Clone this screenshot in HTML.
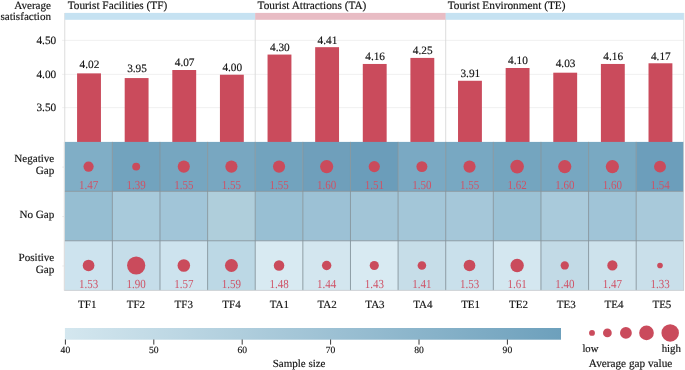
<!DOCTYPE html>
<html><head><meta charset="utf-8"><style>
html,body{margin:0;padding:0;background:#fff;}
body{width:685px;height:370px;overflow:hidden;}
#w{will-change:transform;width:685px;height:370px;}
svg{display:block;}
svg text{font-family:"Liberation Serif",serif;text-rendering:geometricPrecision;} .k{stroke:#141414;stroke-width:0.16px;}
</style></head><body>
<div id="w"><svg width="685" height="370" viewBox="0 0 685 370"><rect width="685" height="370" fill="#fff"/><line x1="62.15" y1="107.65" x2="683.81" y2="107.65" stroke="#ececec" stroke-width="0.8"/><text x="56.2" y="111.25" font-size="11.3" text-anchor="end" fill="#141414" class="k">3.50</text><line x1="62.15" y1="74.40" x2="683.81" y2="74.40" stroke="#ececec" stroke-width="0.8"/><text x="56.2" y="78.00" font-size="11.3" text-anchor="end" fill="#141414" class="k">4.00</text><line x1="62.15" y1="40.40" x2="683.81" y2="40.40" stroke="#ececec" stroke-width="0.8"/><text x="56.2" y="44.00" font-size="11.3" text-anchor="end" fill="#141414" class="k">4.50</text><line x1="64.75" y1="13" x2="64.75" y2="141.9" stroke="#d8d8d8" stroke-width="0.9"/><line x1="255.23" y1="13" x2="255.23" y2="141.9" stroke="#d8d8d8" stroke-width="0.9"/><line x1="445.71" y1="13" x2="445.71" y2="141.9" stroke="#d8d8d8" stroke-width="0.9"/><line x1="683.81" y1="13" x2="683.81" y2="141.9" stroke="#d8d8d8" stroke-width="0.9"/><rect x="64.75" y="12.9" width="190.48" height="6.9" fill="#c6e2f2"/><rect x="255.23" y="12.9" width="190.48" height="6.9" fill="#e8bcc4"/><rect x="445.71" y="12.9" width="238.10" height="6.9" fill="#c6e2f2"/><text x="67.7" y="9.0" font-size="11.3" fill="#141414" class="k">Tourist Facilities (TF)</text><text x="257.6" y="9.0" font-size="11.3" fill="#141414" class="k">Tourist Attractions (TA)</text><text x="447.7" y="9.0" font-size="11.3" fill="#141414" class="k">Tourist Environment (TE)</text><text x="51" y="9" font-size="11.1" text-anchor="end" fill="#141414" class="k">Average</text><text x="51" y="19.7" font-size="11.1" text-anchor="end" fill="#141414" class="k">satisfaction</text><rect x="77.08" y="73.37" width="23.87" height="69.03" fill="#ca4b5c"/><text x="89.41" y="68.20" font-size="11.3" text-anchor="middle" fill="#141414" class="k">4.02</text><rect x="124.69" y="78.07" width="23.87" height="64.33" fill="#ca4b5c"/><text x="137.03" y="72.20" font-size="11.3" text-anchor="middle" fill="#141414" class="k">3.95</text><rect x="172.31" y="70.01" width="23.87" height="72.39" fill="#ca4b5c"/><text x="184.65" y="65.80" font-size="11.3" text-anchor="middle" fill="#141414" class="k">4.07</text><rect x="219.93" y="74.71" width="23.87" height="67.69" fill="#ca4b5c"/><text x="232.27" y="70.80" font-size="11.3" text-anchor="middle" fill="#141414" class="k">4.00</text><rect x="267.55" y="54.56" width="23.87" height="87.84" fill="#ca4b5c"/><text x="279.89" y="51.00" font-size="11.3" text-anchor="middle" fill="#141414" class="k">4.30</text><rect x="315.17" y="47.17" width="23.87" height="95.23" fill="#ca4b5c"/><text x="327.51" y="43.80" font-size="11.3" text-anchor="middle" fill="#141414" class="k">4.41</text><rect x="362.79" y="63.96" width="23.87" height="78.44" fill="#ca4b5c"/><text x="375.13" y="60.40" font-size="11.3" text-anchor="middle" fill="#141414" class="k">4.16</text><rect x="410.41" y="57.91" width="23.87" height="84.49" fill="#ca4b5c"/><text x="422.75" y="53.80" font-size="11.3" text-anchor="middle" fill="#141414" class="k">4.25</text><rect x="458.03" y="80.76" width="23.87" height="61.64" fill="#ca4b5c"/><text x="470.37" y="76.90" font-size="11.3" text-anchor="middle" fill="#141414" class="k">3.91</text><rect x="505.66" y="67.99" width="23.87" height="74.41" fill="#ca4b5c"/><text x="517.99" y="64.40" font-size="11.3" text-anchor="middle" fill="#141414" class="k">4.10</text><rect x="553.28" y="72.69" width="23.87" height="69.71" fill="#ca4b5c"/><text x="565.61" y="67.10" font-size="11.3" text-anchor="middle" fill="#141414" class="k">4.03</text><rect x="600.90" y="63.96" width="23.87" height="78.44" fill="#ca4b5c"/><text x="613.23" y="60.40" font-size="11.3" text-anchor="middle" fill="#141414" class="k">4.16</text><rect x="648.52" y="63.29" width="23.87" height="79.11" fill="#ca4b5c"/><text x="660.85" y="59.70" font-size="11.3" text-anchor="middle" fill="#141414" class="k">4.17</text><rect x="64.75" y="141.90" width="47.62" height="49.43" fill="#80aec6"/><rect x="112.37" y="141.90" width="47.62" height="49.43" fill="#72a3be"/><rect x="159.99" y="141.90" width="47.62" height="49.43" fill="#76a6c0"/><rect x="207.61" y="141.90" width="47.62" height="49.43" fill="#78a7c1"/><rect x="255.23" y="141.90" width="47.62" height="49.43" fill="#72a3be"/><rect x="302.85" y="141.90" width="47.62" height="49.43" fill="#6f9fbb"/><rect x="350.47" y="141.90" width="47.62" height="49.43" fill="#6b9dba"/><rect x="398.09" y="141.90" width="47.62" height="49.43" fill="#7aa9c3"/><rect x="445.71" y="141.90" width="47.62" height="49.43" fill="#78a8c2"/><rect x="493.33" y="141.90" width="47.62" height="49.43" fill="#74a5bf"/><rect x="540.95" y="141.90" width="47.62" height="49.43" fill="#77a7c1"/><rect x="588.57" y="141.90" width="47.62" height="49.43" fill="#79a9c2"/><rect x="636.19" y="141.90" width="47.62" height="49.43" fill="#6c9ebb"/><rect x="64.75" y="191.33" width="47.62" height="49.43" fill="#96bed2"/><rect x="112.37" y="191.33" width="47.62" height="49.43" fill="#a8cadb"/><rect x="159.99" y="191.33" width="47.62" height="49.43" fill="#a1c5d8"/><rect x="207.61" y="191.33" width="47.62" height="49.43" fill="#afcedb"/><rect x="255.23" y="191.33" width="47.62" height="49.43" fill="#98bfd3"/><rect x="302.85" y="191.33" width="47.62" height="49.43" fill="#9cc1d5"/><rect x="350.47" y="191.33" width="47.62" height="49.43" fill="#a2c5d7"/><rect x="398.09" y="191.33" width="47.62" height="49.43" fill="#a3c6d8"/><rect x="445.71" y="191.33" width="47.62" height="49.43" fill="#a5c7d9"/><rect x="493.33" y="191.33" width="47.62" height="49.43" fill="#9bc1d4"/><rect x="540.95" y="191.33" width="47.62" height="49.43" fill="#a9cadb"/><rect x="588.57" y="191.33" width="47.62" height="49.43" fill="#a0c4d7"/><rect x="636.19" y="191.33" width="47.62" height="49.43" fill="#a8c9da"/><rect x="64.75" y="240.76" width="47.62" height="49.43" fill="#cde3ee"/><rect x="112.37" y="240.76" width="47.62" height="49.43" fill="#c5dde9"/><rect x="159.99" y="240.76" width="47.62" height="49.43" fill="#cde3ee"/><rect x="207.61" y="240.76" width="47.62" height="49.43" fill="#bcd8e5"/><rect x="255.23" y="240.76" width="47.62" height="49.43" fill="#d8eaf2"/><rect x="302.85" y="240.76" width="47.62" height="49.43" fill="#d3e6ef"/><rect x="350.47" y="240.76" width="47.62" height="49.43" fill="#d8eaf2"/><rect x="398.09" y="240.76" width="47.62" height="49.43" fill="#c6dde8"/><rect x="445.71" y="240.76" width="47.62" height="49.43" fill="#c9e0eb"/><rect x="493.33" y="240.76" width="47.62" height="49.43" fill="#d4e7f0"/><rect x="540.95" y="240.76" width="47.62" height="49.43" fill="#c2dae6"/><rect x="588.57" y="240.76" width="47.62" height="49.43" fill="#cde2ec"/><rect x="636.19" y="240.76" width="47.62" height="49.43" fill="#c9dfea"/><line x1="112.37" y1="141.9" x2="112.37" y2="290.19" stroke="#84949c" stroke-width="0.9"/><line x1="159.99" y1="141.9" x2="159.99" y2="290.19" stroke="#84949c" stroke-width="0.9"/><line x1="207.61" y1="141.9" x2="207.61" y2="290.19" stroke="#84949c" stroke-width="0.9"/><line x1="255.23" y1="141.9" x2="255.23" y2="290.19" stroke="#84949c" stroke-width="0.9"/><line x1="302.85" y1="141.9" x2="302.85" y2="290.19" stroke="#84949c" stroke-width="0.9"/><line x1="350.47" y1="141.9" x2="350.47" y2="290.19" stroke="#84949c" stroke-width="0.9"/><line x1="398.09" y1="141.9" x2="398.09" y2="290.19" stroke="#84949c" stroke-width="0.9"/><line x1="445.71" y1="141.9" x2="445.71" y2="290.19" stroke="#84949c" stroke-width="0.9"/><line x1="493.33" y1="141.9" x2="493.33" y2="290.19" stroke="#84949c" stroke-width="0.9"/><line x1="540.95" y1="141.9" x2="540.95" y2="290.19" stroke="#84949c" stroke-width="0.9"/><line x1="588.57" y1="141.9" x2="588.57" y2="290.19" stroke="#84949c" stroke-width="0.9"/><line x1="636.19" y1="141.9" x2="636.19" y2="290.19" stroke="#84949c" stroke-width="0.9"/><line x1="64.75" y1="191.33" x2="683.81" y2="191.33" stroke="#84949c" stroke-width="0.9"/><line x1="64.75" y1="240.76" x2="683.81" y2="240.76" stroke="#84949c" stroke-width="0.9"/><line x1="64.3" y1="141.9" x2="64.3" y2="290.59" stroke="#d4d4d4" stroke-width="0.9"/><line x1="683.61" y1="141.9" x2="683.61" y2="290.59" stroke="#c8cdd0" stroke-width="0.9"/><line x1="64.3" y1="290.39" x2="683.81" y2="290.39" stroke="#c8cdd0" stroke-width="0.9"/><circle cx="88.56" cy="166.62" r="5.12" fill="#ca4b5c"/><text transform="translate(88.56,188.90) scale(1,1.12)" x="0" y="0" font-size="11" text-anchor="middle" fill="#cf5266">1.47</text><circle cx="136.18" cy="166.62" r="3.97" fill="#ca4b5c"/><text transform="translate(136.18,188.90) scale(1,1.12)" x="0" y="0" font-size="11" text-anchor="middle" fill="#cf5266">1.39</text><circle cx="183.80" cy="166.62" r="6.06" fill="#ca4b5c"/><text transform="translate(183.80,188.90) scale(1,1.12)" x="0" y="0" font-size="11" text-anchor="middle" fill="#cf5266">1.55</text><circle cx="231.42" cy="166.62" r="6.06" fill="#ca4b5c"/><text transform="translate(231.42,188.90) scale(1,1.12)" x="0" y="0" font-size="11" text-anchor="middle" fill="#cf5266">1.55</text><circle cx="279.04" cy="166.62" r="6.06" fill="#ca4b5c"/><text transform="translate(279.04,188.90) scale(1,1.12)" x="0" y="0" font-size="11" text-anchor="middle" fill="#cf5266">1.55</text><circle cx="326.66" cy="166.62" r="6.58" fill="#ca4b5c"/><text transform="translate(326.66,188.90) scale(1,1.12)" x="0" y="0" font-size="11" text-anchor="middle" fill="#cf5266">1.60</text><circle cx="374.28" cy="166.62" r="5.61" fill="#ca4b5c"/><text transform="translate(374.28,188.90) scale(1,1.12)" x="0" y="0" font-size="11" text-anchor="middle" fill="#cf5266">1.51</text><circle cx="421.90" cy="166.62" r="5.49" fill="#ca4b5c"/><text transform="translate(421.90,188.90) scale(1,1.12)" x="0" y="0" font-size="11" text-anchor="middle" fill="#cf5266">1.50</text><circle cx="469.52" cy="166.62" r="6.06" fill="#ca4b5c"/><text transform="translate(469.52,188.90) scale(1,1.12)" x="0" y="0" font-size="11" text-anchor="middle" fill="#cf5266">1.55</text><circle cx="517.14" cy="166.62" r="6.78" fill="#ca4b5c"/><text transform="translate(517.14,188.90) scale(1,1.12)" x="0" y="0" font-size="11" text-anchor="middle" fill="#cf5266">1.62</text><circle cx="564.76" cy="166.62" r="6.58" fill="#ca4b5c"/><text transform="translate(564.76,188.90) scale(1,1.12)" x="0" y="0" font-size="11" text-anchor="middle" fill="#cf5266">1.60</text><circle cx="612.38" cy="166.62" r="6.58" fill="#ca4b5c"/><text transform="translate(612.38,188.90) scale(1,1.12)" x="0" y="0" font-size="11" text-anchor="middle" fill="#cf5266">1.60</text><circle cx="660.00" cy="166.62" r="5.95" fill="#ca4b5c"/><text transform="translate(660.00,188.90) scale(1,1.12)" x="0" y="0" font-size="11" text-anchor="middle" fill="#cf5266">1.54</text><circle cx="88.56" cy="265.48" r="5.84" fill="#ca4b5c"/><text transform="translate(88.56,287.86) scale(1,1.12)" x="0" y="0" font-size="11" text-anchor="middle" fill="#cf5266">1.53</text><circle cx="136.18" cy="265.48" r="9.10" fill="#ca4b5c"/><text transform="translate(136.18,287.86) scale(1,1.12)" x="0" y="0" font-size="11" text-anchor="middle" fill="#cf5266">1.90</text><circle cx="183.80" cy="265.48" r="6.28" fill="#ca4b5c"/><text transform="translate(183.80,287.86) scale(1,1.12)" x="0" y="0" font-size="11" text-anchor="middle" fill="#cf5266">1.57</text><circle cx="231.42" cy="265.48" r="6.48" fill="#ca4b5c"/><text transform="translate(231.42,287.86) scale(1,1.12)" x="0" y="0" font-size="11" text-anchor="middle" fill="#cf5266">1.59</text><circle cx="279.04" cy="265.48" r="5.25" fill="#ca4b5c"/><text transform="translate(279.04,287.86) scale(1,1.12)" x="0" y="0" font-size="11" text-anchor="middle" fill="#cf5266">1.48</text><circle cx="326.66" cy="265.48" r="4.72" fill="#ca4b5c"/><text transform="translate(326.66,287.86) scale(1,1.12)" x="0" y="0" font-size="11" text-anchor="middle" fill="#cf5266">1.44</text><circle cx="374.28" cy="265.48" r="4.58" fill="#ca4b5c"/><text transform="translate(374.28,287.86) scale(1,1.12)" x="0" y="0" font-size="11" text-anchor="middle" fill="#cf5266">1.43</text><circle cx="421.90" cy="265.48" r="4.28" fill="#ca4b5c"/><text transform="translate(421.90,287.86) scale(1,1.12)" x="0" y="0" font-size="11" text-anchor="middle" fill="#cf5266">1.41</text><circle cx="469.52" cy="265.48" r="5.84" fill="#ca4b5c"/><text transform="translate(469.52,287.86) scale(1,1.12)" x="0" y="0" font-size="11" text-anchor="middle" fill="#cf5266">1.53</text><circle cx="517.14" cy="265.48" r="6.68" fill="#ca4b5c"/><text transform="translate(517.14,287.86) scale(1,1.12)" x="0" y="0" font-size="11" text-anchor="middle" fill="#cf5266">1.61</text><circle cx="564.76" cy="265.48" r="4.13" fill="#ca4b5c"/><text transform="translate(564.76,287.86) scale(1,1.12)" x="0" y="0" font-size="11" text-anchor="middle" fill="#cf5266">1.40</text><circle cx="612.38" cy="265.48" r="5.12" fill="#ca4b5c"/><text transform="translate(612.38,287.86) scale(1,1.12)" x="0" y="0" font-size="11" text-anchor="middle" fill="#cf5266">1.47</text><circle cx="660.00" cy="265.48" r="2.80" fill="#ca4b5c"/><text transform="translate(660.00,287.86) scale(1,1.12)" x="0" y="0" font-size="11" text-anchor="middle" fill="#cf5266">1.33</text><text x="54.3" y="162.22" font-size="11.1" text-anchor="end" fill="#141414" class="k">Negative</text><text x="54.3" y="174.31" font-size="11.1" text-anchor="end" fill="#141414" class="k">Gap</text><line x1="62.35" y1="167.12" x2="64.25" y2="167.12" stroke="#e2e2e2" stroke-width="0.8"/><text x="54.3" y="218.35" font-size="11.1" text-anchor="end" fill="#141414" class="k">No Gap</text><line x1="62.35" y1="216.55" x2="64.25" y2="216.55" stroke="#e2e2e2" stroke-width="0.8"/><text x="54.3" y="261.08" font-size="11.1" text-anchor="end" fill="#141414" class="k">Positive</text><text x="54.3" y="273.18" font-size="11.1" text-anchor="end" fill="#141414" class="k">Gap</text><line x1="62.35" y1="265.98" x2="64.25" y2="265.98" stroke="#e2e2e2" stroke-width="0.8"/><text x="87.28" y="307.9" font-size="11" text-anchor="middle" fill="#141414" class="k">TF1</text><text x="135.90" y="307.9" font-size="11" text-anchor="middle" fill="#141414" class="k">TF2</text><text x="183.72" y="307.9" font-size="11" text-anchor="middle" fill="#141414" class="k">TF3</text><text x="231.53" y="307.9" font-size="11" text-anchor="middle" fill="#141414" class="k">TF4</text><text x="279.35" y="307.9" font-size="11" text-anchor="middle" fill="#141414" class="k">TA1</text><text x="327.17" y="307.9" font-size="11" text-anchor="middle" fill="#141414" class="k">TA2</text><text x="374.99" y="307.9" font-size="11" text-anchor="middle" fill="#141414" class="k">TA3</text><text x="422.81" y="307.9" font-size="11" text-anchor="middle" fill="#141414" class="k">TA4</text><text x="470.62" y="307.9" font-size="11" text-anchor="middle" fill="#141414" class="k">TE1</text><text x="518.44" y="307.9" font-size="11" text-anchor="middle" fill="#141414" class="k">TE2</text><text x="566.26" y="307.9" font-size="11" text-anchor="middle" fill="#141414" class="k">TE3</text><text x="614.08" y="307.9" font-size="11" text-anchor="middle" fill="#141414" class="k">TE4</text><text x="661.90" y="307.9" font-size="11" text-anchor="middle" fill="#141414" class="k">TE5</text><defs><linearGradient id="cb" x1="0" x2="1" y1="0" y2="0"><stop offset="0" stop-color="#d4e7ef"/><stop offset="1" stop-color="#6da0bc"/></linearGradient></defs><rect x="64.9" y="328" width="496.10" height="11.7" fill="url(#cb)"/><line x1="65.40" y1="339.5" x2="65.40" y2="344.6" stroke="#222" stroke-width="0.9"/><text x="65.40" y="353.2" font-size="9.6" text-anchor="middle" fill="#141414" class="k">40</text><line x1="153.80" y1="339.5" x2="153.80" y2="344.6" stroke="#222" stroke-width="0.9"/><text x="153.80" y="353.2" font-size="9.6" text-anchor="middle" fill="#141414" class="k">50</text><line x1="242.20" y1="339.5" x2="242.20" y2="344.6" stroke="#222" stroke-width="0.9"/><text x="242.20" y="353.2" font-size="9.6" text-anchor="middle" fill="#141414" class="k">60</text><line x1="330.60" y1="339.5" x2="330.60" y2="344.6" stroke="#222" stroke-width="0.9"/><text x="330.60" y="353.2" font-size="9.6" text-anchor="middle" fill="#141414" class="k">70</text><line x1="419.00" y1="339.5" x2="419.00" y2="344.6" stroke="#222" stroke-width="0.9"/><text x="419.00" y="353.2" font-size="9.6" text-anchor="middle" fill="#141414" class="k">80</text><line x1="507.40" y1="339.5" x2="507.40" y2="344.6" stroke="#222" stroke-width="0.9"/><text x="507.40" y="353.2" font-size="9.6" text-anchor="middle" fill="#141414" class="k">90</text><text x="299.1" y="367.4" font-size="11" text-anchor="middle" fill="#141414" class="k">Sample size</text><circle cx="592.0" cy="332.9" r="2.93" fill="#ca4b5c"/><circle cx="607.4" cy="332.9" r="4.38" fill="#ca4b5c"/><circle cx="625.9" cy="332.9" r="5.9" fill="#ca4b5c"/><circle cx="646.5" cy="332.9" r="7.34" fill="#ca4b5c"/><circle cx="670.2" cy="332.9" r="8.76" fill="#ca4b5c"/><text x="582.4" y="351.6" font-size="10.7" fill="#141414" class="k">low</text><text x="681.0" y="351.6" font-size="10.9" text-anchor="end" fill="#141414" class="k">high</text><text x="630.6" y="366.8" font-size="11.25" text-anchor="middle" fill="#141414" class="k">Average gap value</text></svg></div>
</body></html>
